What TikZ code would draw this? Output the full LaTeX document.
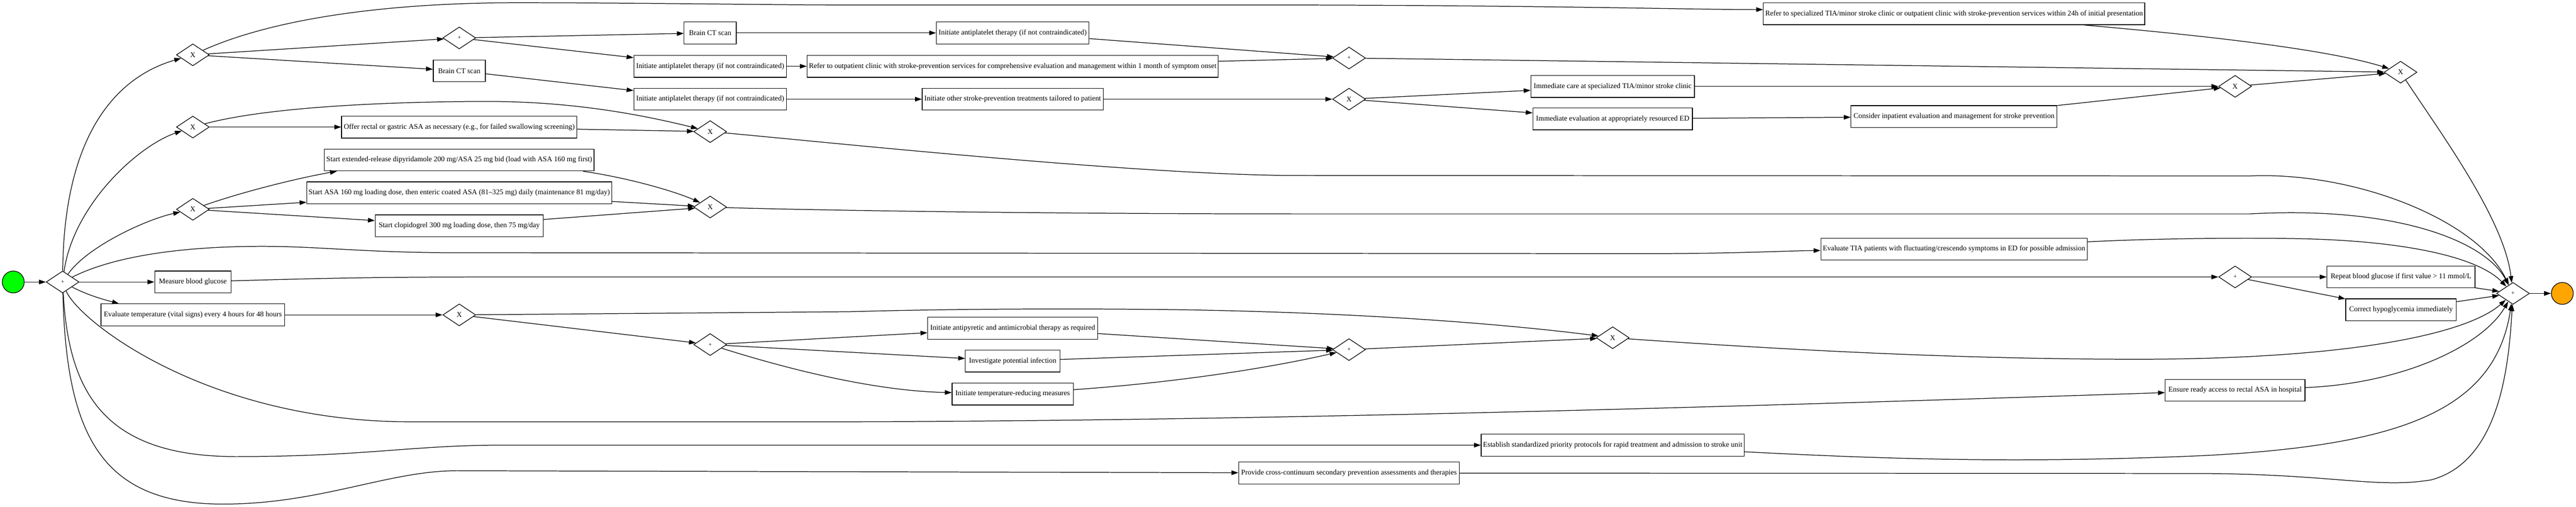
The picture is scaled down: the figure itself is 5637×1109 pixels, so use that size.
\documentclass[tikz,border=0pt]{standalone}
\usepackage{fontspec}
\setmainfont{Liberation Serif}
\usetikzlibrary{shapes.geometric,arrows.meta,calc}
\definecolor{startgreen}{RGB}{0,255,0}
\definecolor{endorange}{RGB}{255,165,0}
\begin{document}
\begin{tikzpicture}[x=1pt,y=-1pt,
  every node/.style={font=\fontsize{16}{19}\selectfont},
  task/.style={draw,line width=1.4pt,rectangle,minimum height=48pt,inner xsep=4pt,inner ysep=2pt},
  gw/.style={draw,line width=1.4pt,diamond,minimum width=72pt,minimum height=48pt,inner sep=0pt},
  ev/.style={draw,line width=1.4pt,circle,minimum size=48pt,inner sep=0pt},
  flow/.style={line width=1.4pt,-{Triangle[length=15pt,width=10pt]}},
  pl/.style={gw,font=\fontsize{13}{13}\selectfont},
]
\useasboundingbox (0,0) rectangle (5637,1109);

% events
\node[ev,fill=startgreen] (startev) at (29,617) {};
\node[ev,fill=endorange] (endev) at (5607,642) {};

% gateways
\node[pl] (P0) at (137,617) {+};
\node[gw] (X1) at (422,120) {X};
\node[gw] (X2) at (422,278) {X};
\node[gw] (X3) at (422,458) {X};
\node[pl] (P1) at (1005,83) {+};
\node[gw] (Xt) at (1005,689) {X};
\node[gw] (Xm1) at (1554,288) {X};
\node[gw] (Xm2) at (1554,453) {X};
\node[pl] (P2) at (1554,754) {+};
\node[pl] (P3) at (2952,127) {+};
\node[gw] (X4) at (2952,217) {X};
\node[pl] (P4) at (2952,765) {+};
\node[gw] (Xm3) at (3529,739) {X};
\node[gw] (X5) at (4891,189) {X};
\node[pl] (P5) at (4891,606) {+};
\node[gw] (X6) at (5253,158) {X};
\node[pl] (P6) at (5499,642) {+};

% tasks
\node[task,minimum width=167pt] (measure) at (422,617) {Measure blood glucose};
\node[task,minimum width=402pt] (evaltemp) at (422,689) {Evaluate temperature (vital signs) every 4 hours for 48 hours};
\node[task,minimum width=114pt] (ctB) at (1005,155) {Brain CT scan};
\node[task,minimum width=515pt] (offer) at (1005,278) {Offer rectal or gastric ASA as necessary (e.g., for failed swallowing screening)};
\node[task,minimum width=590pt] (startext) at (1005,350) {Start extended-release dipyridamole 200 mg/ASA 25 mg bid (load with ASA 160 mg first)};
\node[task,minimum width=667pt] (asa160) at (1005,422) {Start ASA 160 mg loading dose, then enteric coated ASA (81–325 mg) daily (maintenance 81 mg/day)};
\node[task,minimum width=368pt] (clop) at (1005,494) {Start clopidogrel 300 mg loading dose, then 75 mg/day};
\node[task,minimum width=114pt] (ctA) at (1554,72) {Brain CT scan};
\node[task,minimum width=334pt] (initA) at (1554,145) {Initiate antiplatelet therapy (if not contraindicated)};
\node[task,minimum width=334pt] (initB) at (1554,217) {Initiate antiplatelet therapy (if not contraindicated)};
\node[task,minimum width=334pt] (initC) at (2216,72) {Initiate antiplatelet therapy (if not contraindicated)};
\node[task,minimum width=893pt] (refout) at (2216,145) {Refer to outpatient clinic with stroke-prevention services for comprehensive evaluation and management within 1 month of symptom onset};
\node[task,minimum width=396pt] (initother) at (2216,217) {Initiate other stroke-prevention treatments tailored to patient};
\node[task,minimum width=372pt] (antipy) at (2216,718) {Initiate antipyretic and antimicrobial therapy as required};
\node[task,minimum width=207pt] (investigate) at (2216,790) {Investigate potential infection};
\node[task,minimum width=265pt] (tempred) at (2216,862) {Initiate temperature-reducing measures};
\node[task,minimum width=483pt] (provide) at (2952,1035) {Provide cross-continuum secondary prevention assessments and therapies};
\node[task,minimum width=358pt] (imcare) at (3529,189) {Immediate care at specialized TIA/minor stroke clinic};
\node[task,minimum width=349pt] (imeval) at (3529,260) {Immediate evaluation at appropriately resourced ED};
\node[task,minimum width=574pt] (establish) at (3529,974) {Establish standardized priority protocols for rapid treatment and admission to stroke unit};
\node[task,minimum width=827pt] (refspec) at (4276,30) {Refer to specialized TIA/minor stroke clinic or outpatient clinic with stroke-prevention services within 24h of initial presentation};
\node[task,minimum width=451pt] (consider) at (4276,255) {Consider inpatient evaluation and management for stroke prevention};
\node[task,minimum width=583pt] (evaltia) at (4276,545) {Evaluate TIA patients with fluctuating/crescendo symptoms in ED for possible admission};
\node[task,minimum width=306pt] (ensure) at (4891,854) {Ensure ready access to rectal ASA in hospital};
\node[task,minimum width=324pt] (repeat) at (5254,606) {Repeat blood glucose if first value > 11 mmol/L};
\node[task,minimum width=242pt] (correct) at (5254,678) {Correct hypoglycemia immediately};

% flows from start split
\draw[flow] (startev) -- (P0);
\draw[flow] (P0) .. controls (140,300) and (250,170) .. (X1);
\draw[flow] (P0) .. controls (160,450) and (300,320) .. (X2);
\draw[flow] (P0) .. controls (190,540) and (320,480) .. (X3);
\draw[flow] (P0) .. controls (250,560) and (400,539) .. (574,539) .. controls (700,539) and (800,553) .. (1000,553) -- (3600,555) .. controls (3800,555) and (3900,549) .. (evaltia);
\draw[flow] (P0) -- (measure);
\draw[flow] (P0) .. controls (190,645) and (225,655) .. ($(evaltemp.north west)+(40,0)$);
\draw[flow] (P0) .. controls (170,700) and (450,923) .. (900,923) -- (1860,923) .. controls (2800,920) and (3800,890) .. (ensure);
\draw[flow] (P0) .. controls (150,850) and (220,999) .. (516,999) .. controls (800,999) and (900,974) .. (1100,974) -- (establish);
\draw[flow] (P0) .. controls (145,950) and (220,1103) .. (488,1103) .. controls (700,1103) and (850,1030) .. (1000,1030) -- (provide);

% X1 branch
\draw[flow] (X1) .. controls (600,40) and (850,6) .. (1130,6) .. controls (1400,6) and (1700,11) .. (1860,11) -- (2830,11) .. controls (3400,12) and (3700,21) .. ($(refspec.west)+(0,-9)$);
\draw[flow] (X1) -- (P1);
\draw[flow] (X1) -- (ctB);
\draw[flow] (P1) -- (ctA);
\draw[flow] (P1) -- (initA);
\draw[flow] (ctB) -- (initB);
\draw[flow] (ctA) -- (initC);
\draw[flow] (initA) -- (refout);
\draw[flow] (initB) -- (initother);
\draw[flow] (initC) -- (P3);
\draw[flow] (refout) -- (P3);
\draw[flow] (P3) -- (X6);
\draw[flow] (initother) -- (X4);
\draw[flow] (X4) -- (imcare);
\draw[flow] (X4) -- (imeval);
\draw[flow] (imcare) -- (X5);
\draw[flow] (imeval) -- (consider);
\draw[flow] (consider) -- (X5);
\draw[flow] (X5) -- (X6);
\draw[flow] (refspec) .. controls (4850,80) and (5100,110) .. (X6);
\draw[flow] (X6) .. controls (5340,290) and (5480,480) .. (P6);

% X2 branch
\draw[flow] (X2) -- (offer);
\draw[flow] (X2) .. controls (600,230) and (900,222) .. (1067,222) .. controls (1250,222) and (1400,250) .. (Xm1);
\draw[flow] (offer) -- (Xm1);
\draw[flow] (Xm1) .. controls (1800,310) and (2500,384) .. (2840,384) -- (4923,385) .. controls (5150,375) and (5420,480) .. (P6);

% X3 branch
\draw[flow] (X3) .. controls (530,420) and (650,390) .. ($(startext.south west)+(28,0)$);
\draw[flow] (X3) -- (asa160);
\draw[flow] (X3) -- (clop);
\draw[flow] ($(startext.south east)+(-25,0)$) .. controls (1380,390) and (1480,420) .. (Xm2);
\draw[flow] (asa160) -- (Xm2);
\draw[flow] (clop) -- (Xm2);
\draw[flow] (Xm2) .. controls (1700,458) and (2200,468) .. (2840,468) -- (4923,468) .. controls (5250,450) and (5440,530) .. (P6);

% TIA evaluation
\draw[flow] (evaltia) .. controls (4700,522) and (4900,520) .. (5014,522) .. controls (5250,525) and (5420,560) .. (P6);

% glucose
\draw[flow] (measure) .. controls (800,606) and (900,606) .. (1200,606) -- (P5);
\draw[flow] (P5) -- (repeat);
\draw[flow] (P5) -- (correct);
\draw[flow] (repeat) -- (P6);
\draw[flow] (correct) -- (P6);
\draw[flow] (P6) -- (endev);

% temperature
\draw[flow] (evaltemp) -- (Xt);
\draw[flow] (Xt) -- (P2);
\draw[flow] (Xt) -- (1860,682) .. controls (2100,675) and (2400,675) .. (2600,678) .. controls (3000,685) and (3300,710) .. (Xm3);
\draw[flow] (P2) -- (antipy);
\draw[flow] (P2) -- (investigate);
\draw[flow] (P2) .. controls (1700,800) and (1900,855) .. (tempred);
\draw[flow] (antipy) -- (P4);
\draw[flow] (investigate) -- (P4);
\draw[flow] (tempred) .. controls (2600,835) and (2800,800) .. (P4);
\draw[flow] (P4) -- (Xm3);
\draw[flow] (Xm3) .. controls (3900,765) and (4300,787) .. (4700,786) .. controls (5150,784) and (5400,730) .. (P6);

% other direct tasks
\draw[flow] (ensure) .. controls (5250,840) and (5430,760) .. (P6);
\draw[flow] (establish) .. controls (4100,1003) and (4400,1015) .. (4820,997) .. controls (5250,975) and (5460,900) .. (P6);
\draw[flow] (provide) -- (4800,1036) .. controls (5100,1036) and (5200,1070) .. (5320,1050) .. controls (5470,1010) and (5490,800) .. (P6);
\end{tikzpicture}
\end{document}
